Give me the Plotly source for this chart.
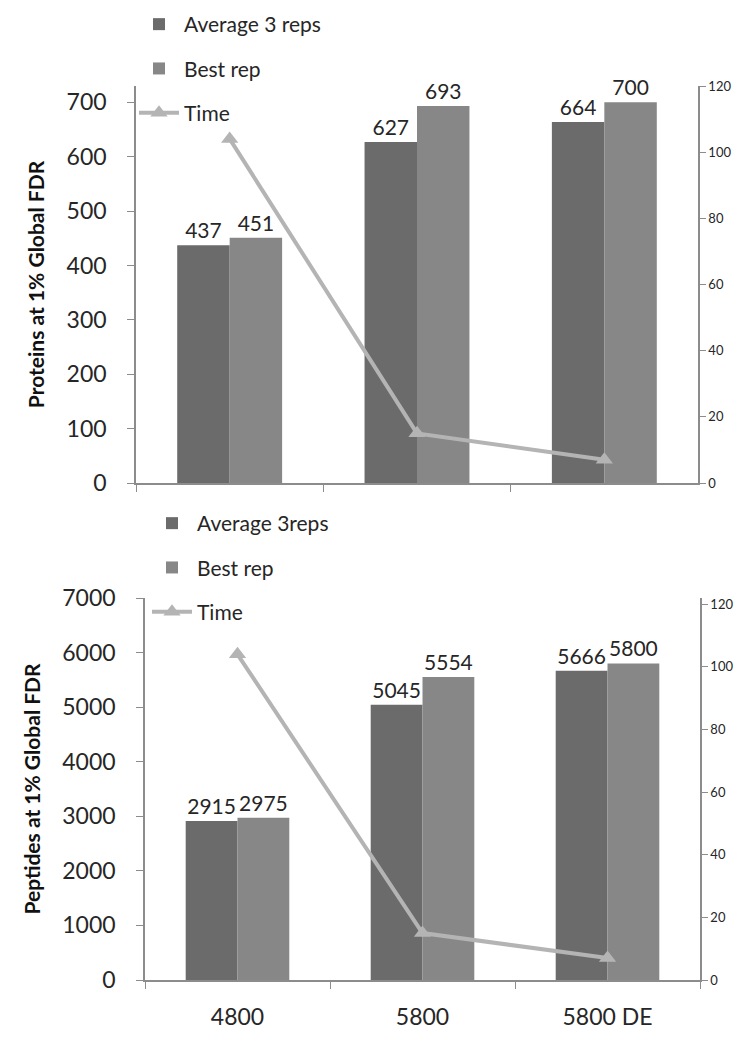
import plotly.graph_objects as go

categories = ["4800", "5800", "5800 DE"]
proteins_avg = [437, 627, 664]
proteins_best = [451, 693, 700]
peptides_avg = [2915, 5045, 5666]
peptides_best = [2975, 5554, 5800]
time_top = [104, 15, 7]
time_bottom = [104, 15, 7]

AVG_C = "#6b6b6b"
BEST_C = "#878787"
LINE_C = "#b4b4b4"
FONT = "Lato, 'Open Sans', sans-serif"
TXT = "#262626"
AX = "#8c8c8c"

fig = go.Figure()

def bars(y, name, color, xa, ya, legend, grp):
    return go.Bar(x=categories, y=y, name=name, marker_color=color, marker_line_width=0,
                  text=[str(v) for v in y], textposition="outside", cliponaxis=False,
                  textfont=dict(size=21, color=TXT, family=FONT),
                  xaxis=xa, yaxis=ya, legend=legend, legendgroup=grp)

def line(y, xa, ya, legend, grp):
    return go.Scatter(x=categories, y=y, name="Time", mode="lines+markers",
                      line=dict(color=LINE_C, width=4),
                      marker=dict(symbol="triangle-up", size=15, color=LINE_C),
                      xaxis=xa, yaxis=ya, legend=legend, legendgroup=grp)

fig.add_trace(bars(proteins_avg, "Average 3 reps", AVG_C, "x", "y", "legend", "a1"))
fig.add_trace(bars(proteins_best, "Best rep", BEST_C, "x", "y", "legend", "b1"))
fig.add_trace(line(time_top, "x", "y2", "legend", "c1"))
fig.add_trace(bars(peptides_avg, "Average 3reps", AVG_C, "x2", "y3", "legend2", "a2"))
fig.add_trace(bars(peptides_best, "Best rep", BEST_C, "x2", "y3", "legend2", "b2"))
fig.add_trace(line(time_bottom, "x2", "y4", "legend2", "c2"))

H = 1041.0
W = 748.0
top_dom = [1 - 483 / H, 1 - 86 / H]
bot_dom = [1 - 980 / H, 1 - 598 / H]
xtop = [136 / W, 698 / W]
xbot = [145 / W, 700 / W]

left_common = dict(showgrid=False, zeroline=False, showline=True, linecolor=AX, linewidth=1.5,
                   ticks="outside", ticklen=7, tickcolor=AX, automargin=False, ticklabelstandoff=16,
                   tickfont=dict(size=23, color=TXT, family=FONT))
right_common = dict(showgrid=False, zeroline=False, showline=True, linecolor=AX, linewidth=1.5,
                    ticks="outside", ticklen=6, tickcolor=AX, side="right", automargin=False,
                    tickfont=dict(size=13, color=TXT, family=FONT), dtick=20)
x_common = dict(type="category", showgrid=False, showline=True, linecolor=AX, linewidth=1.5, automargin=False,
                ticks="outside", ticklen=7, tickcolor=AX, tickson="boundaries", ticklabelstandoff=16,
                tickfont=dict(size=23, color=TXT, family=FONT))

fig.update_layout(
    template="none",
    width=748, height=1041,
    margin=dict(l=0, r=0, t=0, b=0, autoexpand=False),
    paper_bgcolor="white", plot_bgcolor="white",
    barmode="group", bargap=0.44, bargroupgap=0,
    font=dict(family=FONT, color=TXT),
    xaxis=dict(domain=xtop, anchor="y", showticklabels=False, **x_common),
    yaxis=dict(domain=top_dom, anchor="x", range=[0, 730], tickvals=[0, 100, 200, 300, 400, 500, 600, 700],
               title=dict(text="<b>Proteins at 1% Global FDR</b>", font=dict(size=21, color="#111", family=FONT), standoff=16),
               **left_common),
    yaxis2=dict(domain=top_dom, anchor="x", overlaying="y", range=[0, 120], **right_common),
    xaxis2=dict(domain=xbot, anchor="y3", **x_common),
    yaxis3=dict(domain=bot_dom, anchor="x2", range=[0, 7000], dtick=1000,
                title=dict(text="<b>Peptides at 1% Global FDR</b>", font=dict(size=21, color="#111", family=FONT), standoff=16),
                **left_common),
    yaxis4=dict(domain=bot_dom, anchor="x2", overlaying="y3", range=[0, 122], **right_common),
    legend=dict(x=134 / W, y=1 - 4 / H, xanchor="left", yanchor="top", bgcolor="rgba(0,0,0,0)",
                font=dict(size=21, color=TXT, family=FONT), tracegroupgap=14, itemwidth=40),
    legend2=dict(x=147 / W, y=1 - 503 / H, xanchor="left", yanchor="top", bgcolor="rgba(0,0,0,0)",
                 font=dict(size=21, color=TXT, family=FONT), tracegroupgap=14, itemwidth=40),
)

fig.write_html("out.html")
